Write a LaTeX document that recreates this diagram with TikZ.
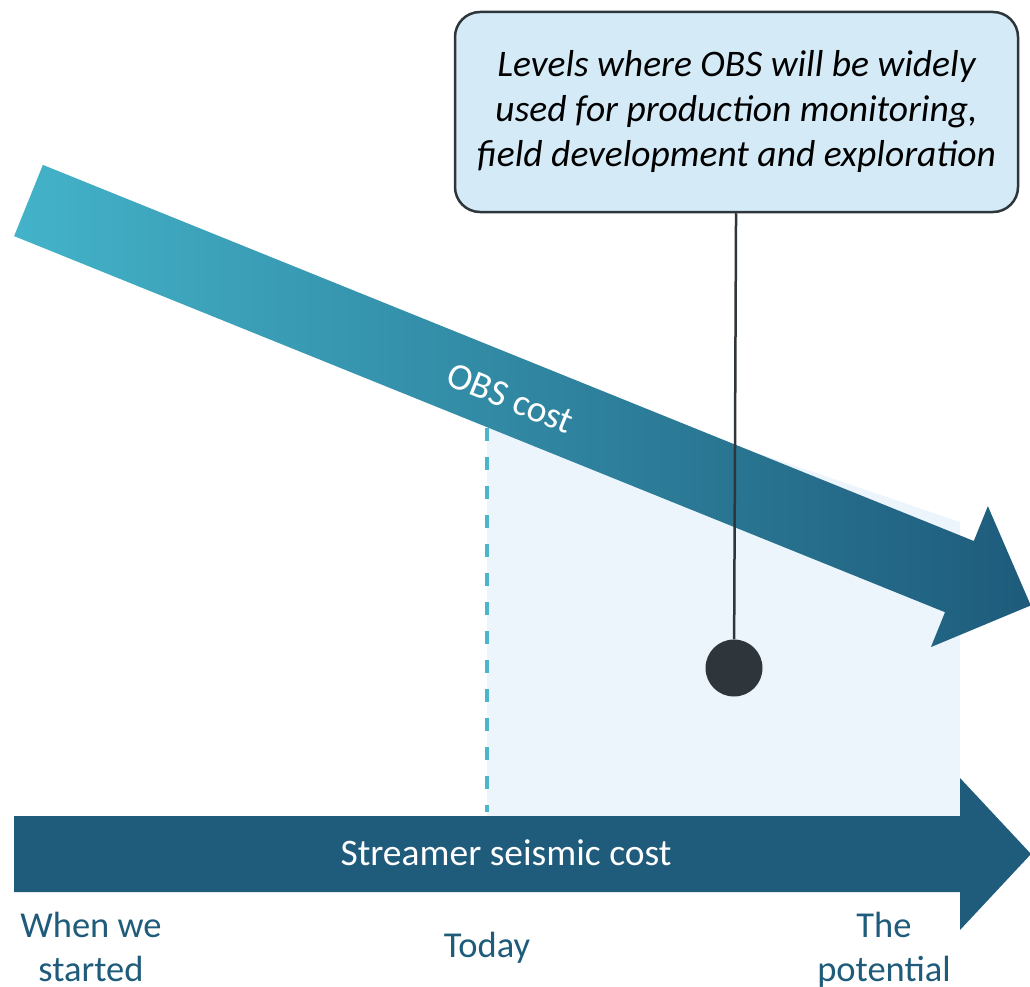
\documentclass[tikz,border=0pt]{standalone}
\usepackage{fontspec}
\setmainfont{Carlito}
\usetikzlibrary{positioning}

\definecolor{obslight}{HTML}{43B3C9}
\definecolor{obsdark}{HTML}{1E5B7B}
\definecolor{streamer}{HTML}{1F5B7A}
\definecolor{zone}{HTML}{EDF5FC}
\definecolor{todayline}{HTML}{4DB5CA}
\definecolor{notefill}{HTML}{D4EBF7}
\definecolor{noteline}{HTML}{2E353B}

\tikzset{
  axislabel/.style={font=\fontsize{36.5}{44}\selectfont, text=streamer, align=center, inner sep=0pt},
  arrowlabel/.style={font=\fontsize{37.5}{44}\selectfont, text=white, inner sep=0pt},
  notebox/.style={draw=noteline, line width=2.5pt, fill=notefill, rounded corners=25pt,
    minimum width=563pt, minimum height=200pt, align=center, inner sep=0pt,
    font=\fontsize{37.5}{45}\selectfont\itshape},
  notedot/.style={circle, fill=noteline, minimum size=57pt, inner sep=0pt},
}

\begin{document}
\begin{tikzpicture}[x=1pt,y=-1pt]
\useasboundingbox (0,0) rectangle (1030,987);
% shaded zone right of today
\fill [zone] (487,361) -- (960,522) -- (960,816) -- (487,816) -- cycle;
\draw [todayline, line width=3.5pt, dash pattern=on 13pt off 16pt] (487,428) -- (487,812);
% OBS cost arrow
\begin{scope}[shift={(28.5,200.5)}, rotate=-22]
\shade [left color=obslight, right color=obsdark] (0,-38.4) -- (1004,-38.4) -- (1004,-76)
  -- (1081,0) -- (1004,76) -- (1004,38.4) -- (0,38.4) -- cycle;
\node [arrowlabel, rotate=-22] (obscost) at (521,3) {OBS cost};
\end{scope}
% streamer seismic cost arrow
\fill [streamer] (14,816) -- (960,816) -- (960,778) -- (1031,854) -- (960,930)
  -- (960,892) -- (14,892) -- cycle;
\node [arrowlabel, anchor=base] (streamercost) at (506,865) {Streamer seismic cost};
% time axis
\node [axislabel, anchor=north] (started) at (91,912) {When we\\started};
\node [axislabel, anchor=base] (today) at (487,957) {Today};
\node [axislabel, anchor=north] (potential) at (884,912) {The\\potential};
% note
\node [notebox] (levels) at (736.5,112) {Levels where OBS will be widely\\used for production monitoring,\\field development and exploration};
\node [notedot] (levelsdot) at (734,668) {};
\draw [noteline, line width=2.5pt] (levels) -- (levelsdot);
\end{tikzpicture}
\end{document}
